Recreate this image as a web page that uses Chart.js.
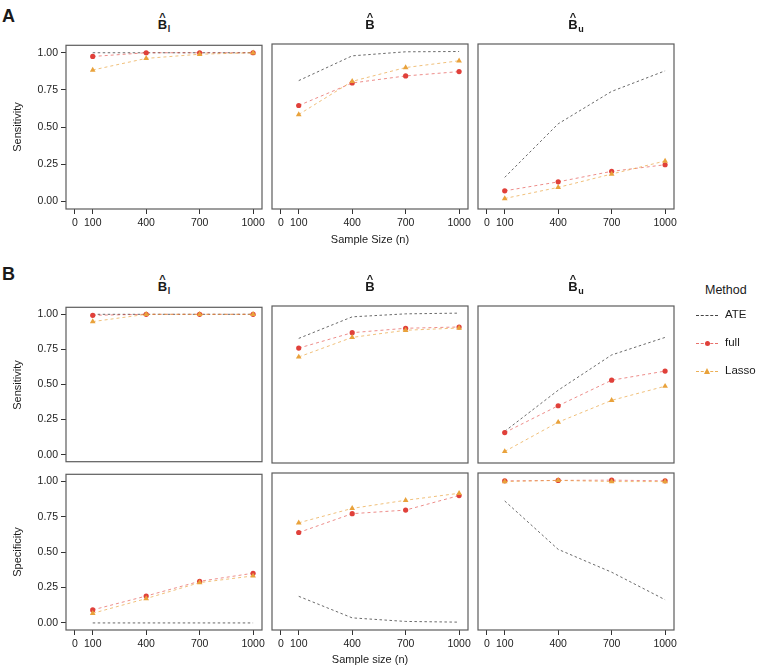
<!DOCTYPE html>
<html><head><meta charset="utf-8">
<script src="https://cdn.jsdelivr.net/npm/chart.js@4"></script>
<style>
body{margin:0;background:#fff;width:760px;height:667px;position:relative;overflow:hidden;font-family:"Liberation Sans",Arial,sans-serif;color:#1a1a1a}
canvas{position:absolute}
.txt{position:absolute;white-space:nowrap;line-height:1}
.ttl{position:absolute;font-weight:bold;font-size:13px;line-height:13px;white-space:nowrap;transform:translateX(-50%)}
.hb{position:relative;display:inline-block}
.hat{position:absolute;left:50%;transform:translateX(-50%);top:-6px;font-size:11px;line-height:11px;font-weight:bold}
.sub{font-size:9px;position:relative;top:3px;margin-left:0.5px}
.ytl{position:absolute;font-size:11px;line-height:1;white-space:nowrap;transform:translate(-50%,-50%) rotate(-90deg)}
.xtl{position:absolute;font-size:11px;line-height:1;white-space:nowrap;transform:translate(-50%,-50%)}
.big{position:absolute;font-size:18px;font-weight:bold;line-height:1}
.lgline{position:absolute;height:0;width:22px;border-top-width:1px;border-top-style:dashed}
.lgc{position:absolute;width:5px;height:5px;border-radius:50%}
.lgt{position:absolute;width:0;height:0;border-left:3.5px solid transparent;border-right:3.5px solid transparent;border-bottom:6px solid #E9A23B}
.lglab{position:absolute;font-size:11.5px;line-height:1;transform:translateY(-50%)}
</style></head><body>
<script>
// ---------- data ----------
const sampleSizes = [100, 400, 700, 1000];
const xTicks = [0, 100, 400, 700, 1000];
const yTicks = [0, 0.25, 0.5, 0.75, 1];
const methods = ['ATE', 'full', 'Lasso'];
const panelSubs = ['l', '', 'u'];

// Panel A: Sensitivity
const aSensBl_ATE   = [1.0, 1.0, 1.0, 1.0];
const aSensBl_full  = [0.975, 1.0, 1.0, 1.0];
const aSensBl_lasso = [0.884, 0.962, 0.99, 1.0];
const aSensB_ATE    = [0.806, 0.971, 0.998, 1.0];
const aSensB_full   = [0.640, 0.790, 0.837, 0.866];
const aSensB_lasso  = [0.580, 0.801, 0.893, 0.938];
const aSensBu_ATE   = [0.161, 0.518, 0.734, 0.871];
const aSensBu_full  = [0.071, 0.131, 0.201, 0.245];
const aSensBu_lasso = [0.020, 0.094, 0.183, 0.270];
// Panel B: Sensitivity
const bSensBl_ATE   = [1.0, 1.0, 1.0, 1.0];
const bSensBl_full  = [0.993, 1.0, 1.0, 1.0];
const bSensBl_lasso = [0.948, 1.0, 1.0, 1.0];
const bSensB_ATE    = [0.823, 0.974, 0.995, 1.0];
const bSensB_full   = [0.755, 0.863, 0.894, 0.903];
const bSensB_lasso  = [0.693, 0.830, 0.880, 0.896];
const bSensBu_ATE   = [0.172, 0.460, 0.707, 0.830];
const bSensBu_full  = [0.163, 0.351, 0.530, 0.594];
const bSensBu_lasso = [0.031, 0.236, 0.389, 0.488];
// Panel B: Specificity
const bSpecBl_ATE   = [0.0, 0.0, 0.0, 0.0];
const bSpecBl_full  = [0.092, 0.190, 0.294, 0.351];
const bSpecBl_lasso = [0.068, 0.172, 0.285, 0.332];
const bSpecB_ATE    = [0.186, 0.035, 0.010, 0.005];
const bSpecB_full   = [0.633, 0.765, 0.790, 0.892];
const bSpecB_lasso  = [0.701, 0.802, 0.859, 0.908];
const bSpecBu_ATE   = [0.854, 0.515, 0.355, 0.162];
const bSpecBu_full  = [0.995, 0.998, 1.0, 0.995];
const bSpecBu_lasso = [0.990, 0.998, 0.990, 0.990];

// ---------- layout ----------
const FONT = '"Liberation Sans", Arial, sans-serif';
const cols = [66, 272, 478];
const PW = 196;
const rows = {
  A:  {top: 44,  h: 165, xAxis: true},
  B1: {top: 306, h: 157, xAxis: false},
  B2: {top: 473, h: 157, xAxis: true}
};
const RED = '#E0403A', ORANGE = '#E9A23B';

const boxPlugin = {
  id: 'box',
  afterDraw(c) {
    const a = c.chartArea, ctx = c.ctx;
    ctx.save();
    ctx.strokeStyle = '#5c5c5c';
    ctx.lineWidth = 1.2;
    ctx.strokeRect(a.left, a.top, a.right - a.left, a.bottom - a.top);
    ctx.restore();
  }
};

function pts(arr) { return sampleSizes.map((x, i) => ({x: x, y: arr[i]})); }

function makePanel(colIdx, row, ate, full, lasso) {
  const hasY = colIdx === 0, hasX = row.xAxis;
  const yW = hasY ? 66 : 0, xH = hasX ? 20 : 0;
  const pad = {left: hasY ? 0 : 8, right: 8, top: 8, bottom: hasX ? 0 : 8};
  const left = cols[colIdx] - yW - pad.left;
  const top = row.top - pad.top;
  const w = yW + pad.left + PW + pad.right;
  const h = pad.top + row.h + xH + pad.bottom;
  const cv = document.createElement('canvas');
  cv.width = w; cv.height = h;
  cv.style.left = left + 'px'; cv.style.top = top + 'px';
  cv.style.width = w + 'px'; cv.style.height = h + 'px';
  document.body.appendChild(cv);
  const tickFont = {size: 10.5, family: FONT};
  new Chart(cv, {
    type: 'line',
    data: {
      datasets: [
        {label: methods[0], data: pts(ate), borderColor: '#444', borderWidth: 0.8, borderDash: [2.5, 2.5],
         pointRadius: 0, tension: 0, order: 3},
        {label: methods[1], data: pts(full), borderColor: 'rgba(224,64,58,0.75)', borderWidth: 0.8, borderDash: [3, 3],
         pointRadius: 2.6, pointStyle: 'circle', pointBackgroundColor: RED, pointBorderWidth: 0, tension: 0, order: 2},
        {label: methods[2], data: pts(lasso), borderColor: 'rgba(233,162,59,0.85)', borderWidth: 0.8, borderDash: [3, 3],
         pointRadius: 3.3, pointStyle: 'triangle', pointBackgroundColor: ORANGE, pointBorderWidth: 0, tension: 0, order: 1}
      ]
    },
    options: {
      responsive: false, animation: false, devicePixelRatio: 1,
      layout: {padding: pad},
      plugins: {legend: {display: false}, tooltip: {enabled: false}},
      scales: {
        x: {
          type: 'linear', min: -50, max: 1050, display: hasX,
          afterBuildTicks: s => { s.ticks = xTicks.map(v => ({value: v})); },
          afterFit: s => { if (hasX) s.height = xH; },
          ticks: {font: tickFont, color: '#222', padding: 3, maxRotation: 0, autoSkip: false,
                  callback: v => String(v)},
          grid: {display: true, drawOnChartArea: false, drawTicks: true, tickLength: 5,
                 tickColor: '#333', tickWidth: 1, color: '#333'},
          border: {display: false}
        },
        y: {
          type: 'linear', min: -0.05, max: 1.05, display: hasY,
          afterBuildTicks: s => { s.ticks = yTicks.map(v => ({value: v})); },
          afterFit: s => { if (hasY) s.width = yW; },
          ticks: {font: tickFont, color: '#222', padding: 3, autoSkip: false,
                  callback: v => Number(v).toFixed(2)},
          grid: {display: true, drawOnChartArea: false, drawTicks: true, tickLength: 5,
                 tickColor: '#333', tickWidth: 1, color: '#333'},
          border: {display: false}
        }
      }
    },
    plugins: [boxPlugin]
  });
}

makePanel(0, rows.A, aSensBl_ATE, aSensBl_full, aSensBl_lasso);
makePanel(1, rows.A, aSensB_ATE, aSensB_full, aSensB_lasso);
makePanel(2, rows.A, aSensBu_ATE, aSensBu_full, aSensBu_lasso);
makePanel(0, rows.B1, bSensBl_ATE, bSensBl_full, bSensBl_lasso);
makePanel(1, rows.B1, bSensB_ATE, bSensB_full, bSensB_lasso);
makePanel(2, rows.B1, bSensBu_ATE, bSensBu_full, bSensBu_lasso);
makePanel(0, rows.B2, bSpecBl_ATE, bSpecBl_full, bSpecBl_lasso);
makePanel(1, rows.B2, bSpecB_ATE, bSpecB_full, bSpecB_lasso);
makePanel(2, rows.B2, bSpecBu_ATE, bSpecBu_full, bSpecBu_lasso);

// ---------- text ----------
function addEl(cls, html, left, top) {
  const d = document.createElement('div');
  d.className = cls; d.innerHTML = html;
  d.style.left = left + 'px'; d.style.top = top + 'px';
  document.body.appendChild(d);
  return d;
}
addEl('big', 'A', 2, 7);
addEl('big', 'B', 2, 265);
[17.6, 280].forEach(t => {
  cols.forEach((c, i) => {
    const sub = panelSubs[i];
    addEl('ttl', '<span class="hb">B<span class="hat">^</span></span>' + (sub ? '<span class="sub">' + sub + '</span>' : ''), c + PW / 2, t);
  });
});
addEl('ytl', 'Sensitivity', 17, rows.A.top + rows.A.h / 2);
addEl('ytl', 'Sensitivity', 17, rows.B1.top + rows.B1.h / 2);
addEl('ytl', 'Specificity', 17, rows.B2.top + rows.B2.h / 2);
addEl('xtl', 'Sample Size (n)', cols[1] + PW / 2, 239);
addEl('xtl', 'Sample size (n)', cols[1] + PW / 2, 659);

// legend
const lg = addEl('txt', 'Method', 705, 284);
lg.style.fontSize = '12.5px';
const lgY = [315, 343, 371];
const lgColors = ['#444', 'rgba(224,64,58,0.75)', 'rgba(233,162,59,0.85)'];
methods.forEach((m, i) => {
  const l = addEl('lgline', '', 696, lgY[i]);
  l.style.borderTopColor = lgColors[i];
  if (i === 1) { const c = addEl('lgc', '', 704.5, lgY[i] - 2.5); c.style.background = RED; }
  if (i === 2) { addEl('lgt', '', 703.5, lgY[i] - 3.5); }
  addEl('lglab', m, 725, lgY[i]);
});
</script>
</body></html>
